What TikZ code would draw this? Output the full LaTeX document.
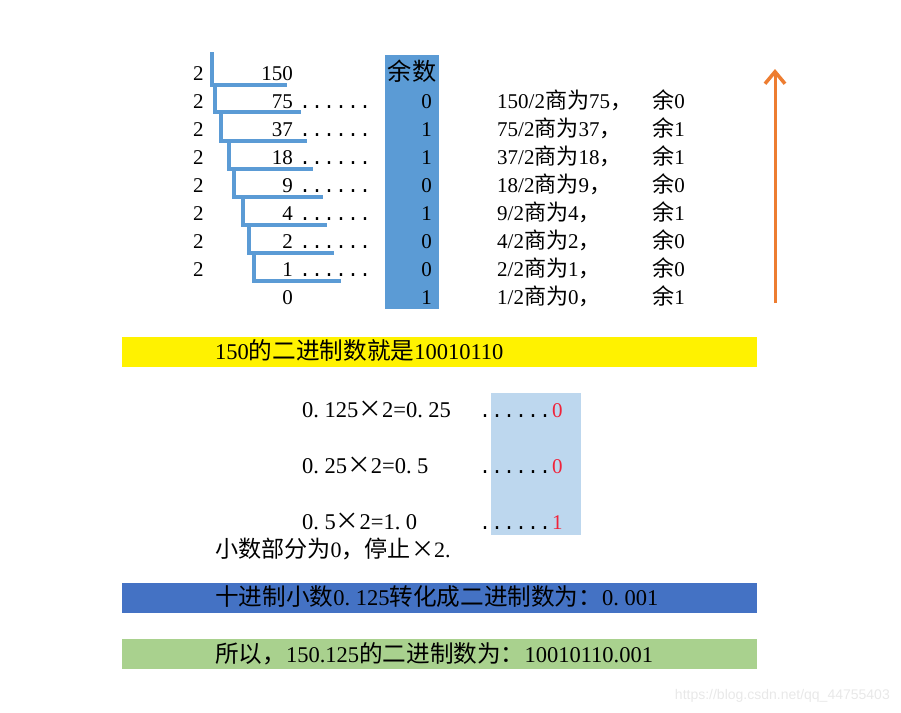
\documentclass[tikz,border=0pt]{standalone}
\usepackage{fontspec}
\setmainfont{Liberation Serif}
\setsansfont{Liberation Sans}
\setmonofont{Liberation Mono}
\newfontfamily\cjk[Scale=1.05]{Noto Sans CJK SC}
\newcommand{\zh}[1]{{\cjk #1}}
\usetikzlibrary{arrows.meta}
\definecolor{colblue}{HTML}{5B9BD5}
\definecolor{lightblue}{HTML}{BDD7EE}
\definecolor{barblue}{HTML}{4472C4}
\definecolor{bargreen}{HTML}{A9D18E}
\definecolor{orange}{HTML}{ED7D31}
\definecolor{digred}{HTML}{F0233A}

\begin{document}
\begin{tikzpicture}[x=1pt,y=-1pt,
  every node/.style={inner sep=0pt, font=\fontsize{21}{24}\selectfont},
  dotrow/.style={anchor=base west, font=\fontsize{20}{24}\ttfamily},
  bartext/.style={anchor=base west, font=\fontsize{22.5}{26}\selectfont},
  stair/.style={colblue, line width=4pt}]
  \useasboundingbox (0,0) rectangle (901,712);

  % coloured cells
  \fill[colblue] (385,55) rectangle (439,309);
  \fill[yellow] (122,337) rectangle (757,367);
  \fill[lightblue] (491,393) rectangle (581,535);
  \fill[barblue] (122,583) rectangle (757,613);
  \fill[bargreen] (122,639) rectangle (757,669);

  % division by 2
  \foreach \xx/\ya/\yb/\xe in {212/52/85/287, 215/85/112/301, 221/112/141/307, 229/141/169/313,
      234/169/197/323, 243/197/225/327, 249/225/253/334, 254/253/281/341}
    \draw[stair] (\xx,\ya) -- (\xx,\yb) -- (\xe,\yb);

  \node[anchor=base east] (q0) at (293,80) {150};
  \node[anchor=base, font=\fontsize{23}{28}\cjk] (head) at (412,80) {余数};
  \foreach \i/\a/\b/\r in {1/150/75/0, 2/75/37/1, 3/37/18/1, 4/18/9/0,
      5/9/4/1, 6/4/2/0, 7/2/1/0, 8/1/0/1} {
    \node[anchor=base west] (two\i) at (193,{80+28*(\i-1)}) {2};
    \node[anchor=base east] (q\i) at (293,{80+28*\i}) {\b};
    \ifnum\i<8
      \node[dotrow] (dots\i) at (299,{80+28*\i}) {......};
    \fi
    \node[anchor=base east] (r\i) at (432,{80+28*\i}) {\r};
    \node[anchor=base west] (desc\i) at (497,{80+28*\i}) {\a/2\zh{商为}\b\zh{，}};
    \node[anchor=base west] (rem\i) at (652,{80+28*\i}) {\zh{余}\r};
  }

  \coordinate (low) at (775,303);
  \coordinate (high) at (775,69);
  \draw[orange, line width=3pt, -{Straight Barb[length=12pt,width=20pt,line width=3.5pt]}] (low) -- (high);

  \node[bartext] (intres) at (215,359) {150\zh{的二进制数就是}10010110};

  % fraction times 2
  \foreach \i/\lhs/\rhs/\d in {0/125/0.\ 25/0, 1/25/0.\ 5/0, 2/5/1.\ 0/1} {
    \node[bartext] (mul\i) at (302,{417+56*\i}) {0.\ \lhs\zh{×}2=\rhs};
    \node[dotrow] (fdots\i) at (479,{417+56*\i}) {......};
    \node[anchor=base west, text=digred] (bit\i) at (552,{417+56*\i}) {\d};
  }
  \node[anchor=base west, font=\fontsize{22}{26}\selectfont] (stop) at (215,557) {\zh{小数部分为}0\zh{，停止×}2.};

  \node[bartext] (fracres) at (215,605) {\zh{十进制小数}0.\ 125\zh{转化成二进制数为：}0.\ 001};
  \node[bartext] (result) at (215,662) {\zh{所以，}150.125\zh{的二进制数为：}10010110.001};

  \node[anchor=base east, text=black!9, font=\fontsize{14}{16}\sffamily] (mark) at (890,699) {https://blog.csdn.net/qq\_44755403};
\end{tikzpicture}
\end{document}
